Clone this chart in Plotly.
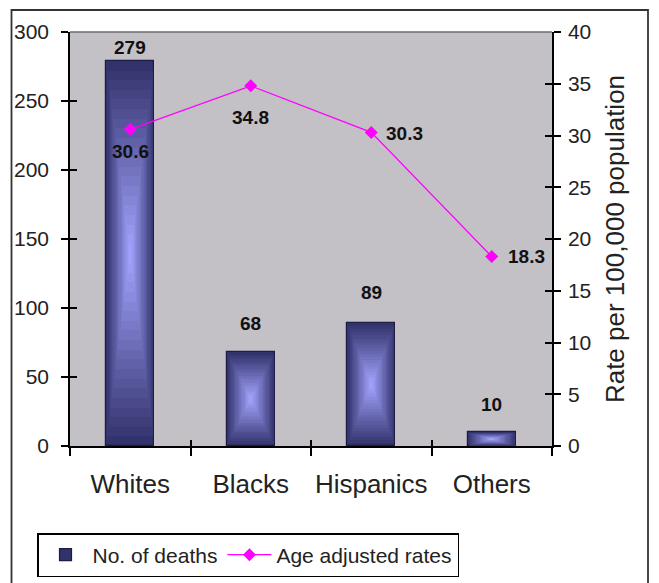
import plotly.graph_objects as go

# Deaths and age-adjusted rates by race / ethnicity
categories = ["Whites", "Blacks", "Hispanics", "Others"]
deaths = [279, 68, 89, 10]
rates = [30.6, 34.8, 30.3, 18.3]

left_ticks = [0, 50, 100, 150, 200, 250, 300]
right_ticks = [0, 5, 10, 15, 20, 25, 30, 35, 40]

FONT = "Liberation Sans, Arial, sans-serif"
W, H = 659, 583
ML, MR, MT, MB = 70, 107, 32, 137
PW, PH = W - ML - MR, H - MT - MB


def px_x(x):
    return (x - ML) / PW


def px_y(y):
    return (H - MB - y) / PH


fig = go.Figure()

# Bars with a "from centre" gradient: nested rectangles, dark edge to light core
BAR_W = 0.4
n_layers = 20
dark = (50, 50, 108)
light = (162, 162, 252)
for k in range(n_layers):
    t = k / (n_layers - 1)
    shrink = 0.95 * t
    r, g, b = (round(d + (l - d) * t) for d, l in zip(dark, light))
    fig.add_trace(go.Bar(
        x=categories,
        y=[v * (1 - shrink) for v in deaths],
        base=[v * shrink / 2 for v in deaths],
        width=BAR_W * (1 - shrink),
        marker=dict(
            color=f"rgb({r},{g},{b})",
            line=dict(color="#1c1c44" if k == 0 else f"rgb({r},{g},{b})",
                      width=1.2 if k == 0 else 0),
        ),
        name="No. of deaths",
        showlegend=(k == 0),
        hoverinfo="skip" if k else None,
        legendrank=1,
    ))

# Rate line on the secondary axis
fig.add_trace(go.Scatter(
    x=categories, y=rates, yaxis="y2",
    mode="lines+markers",
    line=dict(color="#ff00ff", width=1.3),
    marker=dict(symbol="diamond", size=10, color="#ff00ff"),
    name="Age adjusted rates",
    legendrank=2,
))

# Empty traces that carry the inner halves of the crossing tick marks
fig.add_trace(go.Scatter(x=[], y=[], xaxis="x3", yaxis="y3", showlegend=False))
fig.add_trace(go.Scatter(x=[], y=[], xaxis="x3", yaxis="y4", showlegend=False))

label_font = dict(family=FONT, size=19, color="#111111")

# Death counts above the bars
bar_label_lift = [1, 16, 18, 15]
for c, v, lift in zip(categories, deaths, bar_label_lift):
    fig.add_annotation(x=c, y=v, text=f"<b>{v}</b>", showarrow=False,
                       yanchor="bottom", yshift=lift, font=label_font)

# Rate values next to the points
rate_label_pos = [
    dict(xanchor="center", yanchor="top", xshift=0, yshift=-10),
    dict(xanchor="center", yanchor="top", xshift=0, yshift=-19),
    dict(xanchor="left", yanchor="middle", xshift=13, yshift=-1),
    dict(xanchor="left", yanchor="middle", xshift=14, yshift=0),
]
for c, v, pos in zip(categories, rates, rate_label_pos):
    fig.add_annotation(x=c, y=v, yref="y2", text=f"<b>{v}</b>",
                       showarrow=False, font=label_font, **pos)

tick_font = dict(family=FONT, size=21, color="#222222")
n = len(categories)

fig.update_layout(
    width=W, height=H,
    margin=dict(l=ML, r=MR, t=MT, b=MB, autoexpand=False),
    paper_bgcolor="white",
    plot_bgcolor="#c3c1c6",
    barmode="overlay",
    bargap=0,
    font=dict(family=FONT, color="#222222"),
    xaxis=dict(
        type="category", categoryarray=categories, range=[-0.5, n - 0.5],
        showline=True, linecolor="black", linewidth=1.5,
        ticks="outside", ticklen=8, tickwidth=1.5, tickcolor="black",
        tickson="boundaries", showgrid=False, zeroline=False,
        tickangle=0,
        tickfont=dict(family=FONT, size=26, color="#222222"),
        ticklabelstandoff=14,
    ),
    yaxis=dict(
        range=[0, 300], tickvals=left_ticks,
        showline=True, linecolor="black", linewidth=1.5,
        ticks="outside", ticklen=7, tickwidth=1.5, tickcolor="black",
        showgrid=False, zeroline=False, tickfont=tick_font,
        ticklabelstandoff=8,
    ),
    yaxis2=dict(
        overlaying="y", side="right", range=[0, 40], tickvals=right_ticks,
        showline=True, linecolor="black", linewidth=1.5,
        ticks="outside", ticklen=7, tickwidth=1.5, tickcolor="black",
        showgrid=False, zeroline=False, tickfont=tick_font,
        ticklabelstandoff=3,
        title=dict(text="Rate per 100,000 population",
                   font=dict(family=FONT, size=26, color="#222222"),
                   standoff=15),
    ),
    xaxis3=dict(
        overlaying="x", range=[-0.5, n - 0.5],
        tickvals=[i - 0.5 for i in range(n + 1)],
        ticks="inside", ticklen=6, tickwidth=1.5, tickcolor="black",
        showticklabels=False, showgrid=False, zeroline=False, showline=False,
    ),
    yaxis3=dict(
        overlaying="y", range=[0, 300], tickvals=left_ticks,
        ticks="inside", ticklen=7, tickwidth=1.5, tickcolor="black",
        showticklabels=False, showgrid=False, zeroline=False, showline=False,
    ),
    yaxis4=dict(
        overlaying="y", side="right", range=[0, 40], tickvals=right_ticks,
        ticks="inside", ticklen=7, tickwidth=1.5, tickcolor="black",
        showticklabels=False, showgrid=False, zeroline=False, showline=False,
    ),
    legend=dict(
        orientation="h", x=px_x(37), y=px_y(533),
        xanchor="left", yanchor="top",
        bgcolor="white", bordercolor="black", borderwidth=1.5,
        font=dict(family=FONT, size=21, color="#222222"),
        itemwidth=44, traceorder="normal",
    ),
    showlegend=True,
)

# Top edge of the plot area and the outer chart frame
fig.add_shape(type="line", xref="paper", yref="paper",
              x0=0, x1=1, y0=1, y1=1,
              line=dict(color="#6a6a6a", width=1.5), layer="above")
fig.add_shape(type="rect", xref="paper", yref="paper",
              x0=px_x(11.5), x1=px_x(648), y0=px_y(600), y1=px_y(10),
              line=dict(color="#333333", width=1.8), layer="below")

fig.write_html("out.html")
